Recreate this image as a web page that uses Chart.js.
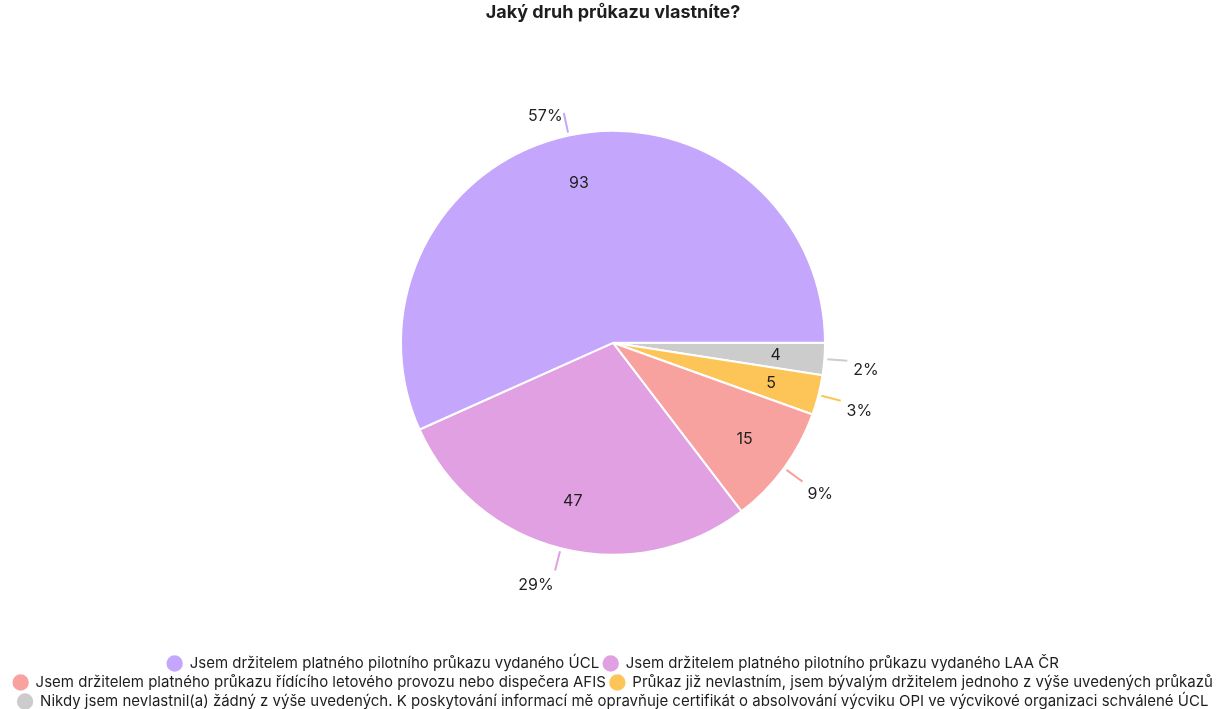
<!DOCTYPE html>
<html>
<head>
<meta charset="utf-8">
<script src="https://cdn.jsdelivr.net/npm/chart.js@4/dist/chart.umd.min.js"></script>
<style>
  html, body { margin: 0; padding: 0; background: #ffffff; }
  #wrap { width: 1228px; height: 709px; position: relative; }
</style>
</head>
<body>
<div id="wrap"><canvas id="chart"></canvas></div>
<script>
// Survey answers, in legend order
const categories = [
  'Jsem držitelem platného pilotního průkazu vydaného ÚCL',
  'Jsem držitelem platného pilotního průkazu vydaného LAA ČR',
  'Jsem držitelem platného průkazu řídícího letového provozu nebo dispečera AFIS',
  'Průkaz již nevlastním, jsem bývalým držitelem jednoho z výše uvedených průkazů',
  'Nikdy jsem nevlastnil(a) žádný z výše uvedených. K poskytování informací mě opravňuje certifikát o absolvování výcviku OPI ve výcvikové organizaci schválené ÚCL'
];
const counts = [93, 47, 15, 5, 4];
const sliceColors = ['#c4a6fc', '#e0a0e2', '#f8a29f', '#fdc558', '#cccccc'];
const chartTitle = 'Jaký druh průkazu vlastníte?';

// Slices run counter-clockwise from 3 o'clock, so feed them in reverse
// and let the legend flip the order back.
const drawLabels = categories.slice().reverse();
const drawCounts = counts.slice().reverse();
const drawColors = sliceColors.slice().reverse();

const FONT = 'Inter, "Noto Sans", sans-serif';

// Counts inside the slices, percentages outside with short leader lines
const sliceLabels = {
  id: 'sliceLabels',
  afterDatasetsDraw(chart) {
    const ctx = chart.ctx;
    const meta = chart.getDatasetMeta(0);
    const values = chart.data.datasets[0].data;
    const total = values.reduce((a, b) => a + b, 0);
    ctx.save();
    meta.data.forEach((arc, i) => {
      const p = arc.getProps(['x', 'y', 'startAngle', 'endAngle', 'outerRadius'], true);
      const mid = (p.startAngle + p.endAngle) / 2;
      const c = Math.cos(mid), s = Math.sin(mid);
      const R = p.outerRadius;

      ctx.font = '16px ' + FONT;
      ctx.fillStyle = '#1e1e1e';
      ctx.textAlign = 'center';
      ctx.textBaseline = 'middle';
      ctx.fillText(String(values[i]), p.x + c * R * 0.77, p.y + s * R * 0.77);

      const r1 = R + 3, r2 = R + 23;
      ctx.beginPath();
      ctx.moveTo(p.x + c * r1, p.y + s * r1);
      ctx.lineTo(p.x + c * r2, p.y + s * r2);
      ctx.strokeStyle = drawColors[i];
      ctx.lineWidth = 2;
      ctx.stroke();

      const pct = Math.round(values[i] / total * 100) + '%';
      ctx.textAlign = c >= 0 ? 'left' : 'right';
      ctx.fillText(pct, p.x + c * (r2 + 6), p.y + s * (r2 + 6) + 9);
    });
    ctx.restore();
  }
};

new Chart(document.getElementById('chart'), {
  type: 'pie',
  data: {
    labels: drawLabels,
    datasets: [{
      data: drawCounts,
      backgroundColor: drawColors,
      borderColor: '#ffffff',
      borderWidth: 2,
      radius: 212
    }]
  },
  options: {
    responsive: true,
    maintainAspectRatio: false,
    animation: false,
    rotation: 90,
    layout: { padding: { top: -6, bottom: -10, left: 0, right: 2 } },
    plugins: {
      title: {
        display: true,
        text: chartTitle,
        color: '#1e1e1e',
        font: { family: FONT, size: 18, weight: 'bold' },
        padding: { top: 8, bottom: 10 }
      },
      legend: {
        position: 'bottom',
        reverse: true,
        labels: {
          usePointStyle: true,
          pointStyle: 'circle',
          boxWidth: 15,
          boxHeight: 13,
          padding: 4,
          color: '#1e1e1e',
          font: { family: FONT, size: 15 }
        }
      },
      tooltip: { enabled: false }
    }
  },
  plugins: [sliceLabels]
});
</script>
</body>
</html>
